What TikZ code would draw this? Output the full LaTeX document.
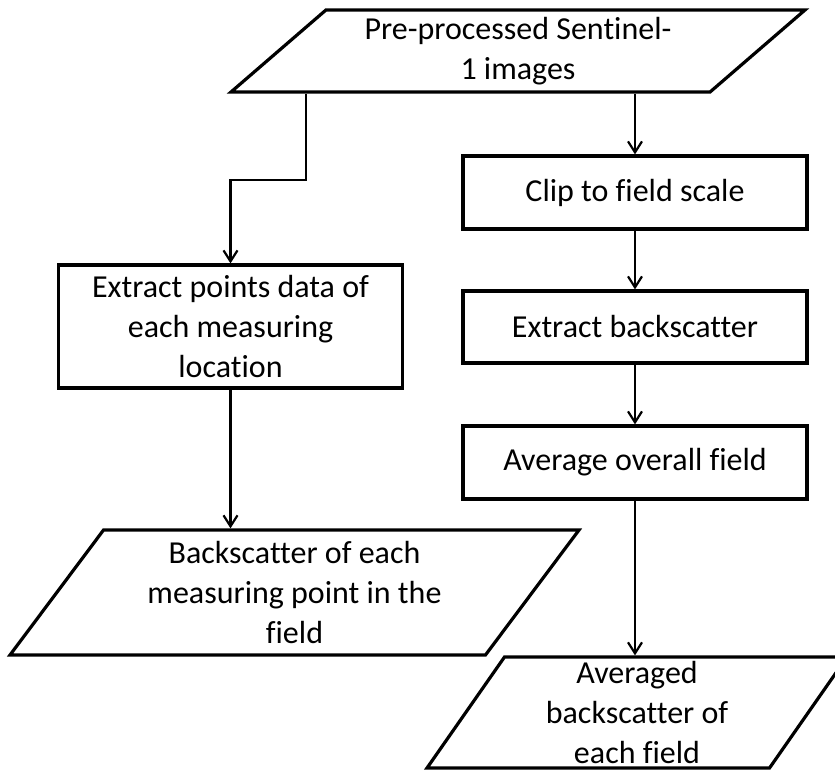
\documentclass[tikz,border=0pt]{standalone}
\usepackage{fontspec}
\setmainfont{Carlito}[Ligatures=NoCommon]
\usetikzlibrary{shapes.geometric,arrows.meta}
\begin{document}
\begin{tikzpicture}[x=1pt,y=-1pt,
    every node/.style={font=\fontsize{32}{40}\selectfont, align=center, inner sep=0pt},
    proc/.style={draw, line width=3.2pt, rectangle, minimum width=344pt},
    io/.style={draw, line width=3.2pt, trapezium, trapezium stretches body},
    conn/.style={line width=2.2pt, -{Straight Barb[length=11pt,width=14pt,line width=2.2pt]}}]
    \useasboundingbox (0,0) rectangle (835,771);
    \node[io, trapezium left angle=35.5, trapezium right angle=144.5,
          minimum width=574pt, minimum height=82pt] (img) at (518, 51) {Pre-processed Sentinel-\\1 images};
    \node[proc, minimum height=73pt] (clip) at (635, 192.5) {Clip to field scale};
    \node[proc, minimum height=72pt] (ext) at (635, 327) {Extract backscatter};
    \node[proc, minimum height=73pt] (avg) at (635, 462.5) {Average overall field};
    \node[proc, minimum height=123pt] (pts) at (230.5, 326.5) {Extract points data of\\each measuring\\location};
    \node[io, trapezium left angle=47.6, trapezium right angle=132.4,
          minimum width=569pt, minimum height=125pt] (bsp) at (294.5, 592.5) {Backscatter of each\\measuring point in the\\field};
    \node[io, trapezium left angle=52.9, trapezium right angle=127.1,
          minimum width=420pt, minimum height=111pt] (bsf) at (637, 712.5) {Averaged\\backscatter of\\each field};
    \coordinate (bend) at (306, 180);
    \draw[conn] (img.south -| bend) -- (bend) -| (pts.north);
    \draw[conn] (img.south -| clip.north) -- (clip.north);
    \draw[conn] (clip.south) -- (ext.north);
    \draw[conn] (ext.south) -- (avg.north);
    \draw[conn] (avg.south) -- (avg.south |- bsf.north);
    \draw[conn] (pts.south) -- (pts.south |- bsp.north);
\end{tikzpicture}
\end{document}
